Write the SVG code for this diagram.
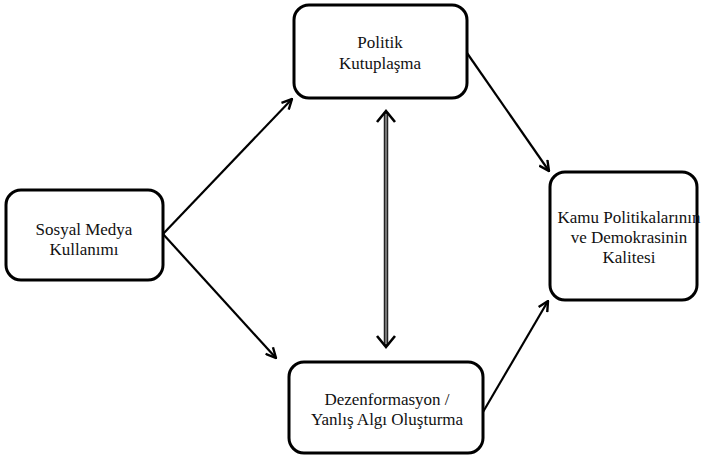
<svg xmlns="http://www.w3.org/2000/svg" width="702" height="462" viewBox="0 0 702 462">
<defs>
<style>
.box{fill:#fff;stroke:#000;stroke-width:3}
.lbl{font-family:"Liberation Serif","Times New Roman",serif;font-size:17px;fill:#111;text-anchor:middle}
.conn{stroke:#000;stroke-width:2.2;fill:none}
</style>
<marker id="ah" viewBox="0 0 12 12" refX="11" refY="6" markerWidth="12" markerHeight="12" markerUnits="userSpaceOnUse" orient="auto-start-reverse">
<path d="M1,1 L11,6 L1,11" fill="none" stroke="#000" stroke-width="2.4" stroke-linejoin="miter"/>
</marker>
</defs>
<rect width="702" height="462" fill="#fff"/>
<g id="connectors">
<line class="conn" x1="163" y1="234" x2="292" y2="99" marker-end="url(#ah)"/>
<line class="conn" x1="163" y1="234" x2="276" y2="358" marker-end="url(#ah)"/>
<line class="conn" x1="467" y1="53" x2="549" y2="171" marker-end="url(#ah)"/>
<line class="conn" x1="483" y1="412" x2="548" y2="301" marker-end="url(#ah)"/>
<line x1="386" y1="112" x2="386" y2="346" stroke="#222" stroke-width="4.5"/>
<line x1="386" y1="114" x2="386" y2="344" stroke="#8a8a8a" stroke-width="1.6"/>
<path d="M377,122 L386,111 L395,122 M377,336 L386,347 L395,336" fill="none" stroke="#000" stroke-width="2.6"/>
</g>
<g id="politik">
<rect class="box" x="294" y="5" width="173" height="93" rx="15"/>
<text class="lbl" x="380" y="48">Politik</text>
<text class="lbl" x="380" y="69">Kutuplaşma</text>
</g>
<g id="sosyal">
<rect class="box" x="6" y="190" width="157" height="90" rx="15"/>
<text class="lbl" x="84" y="235">Sosyal Medya</text>
<text class="lbl" x="84" y="255">Kullanımı</text>
</g>
<g id="kamu">
<rect class="box" x="550" y="172" width="147" height="128" rx="15"/>
<text class="lbl" x="629" y="223">Kamu Politikalarının</text>
<text class="lbl" x="629" y="243">ve Demokrasinin</text>
<text class="lbl" x="629" y="263">Kalitesi</text>
</g>
<g id="dezen">
<rect class="box" x="289" y="362" width="194" height="91" rx="15"/>
<text class="lbl" x="387" y="405">Dezenformasyon /</text>
<text class="lbl" x="387" y="425">Yanlış Algı Oluşturma</text>
</g>
</svg>
